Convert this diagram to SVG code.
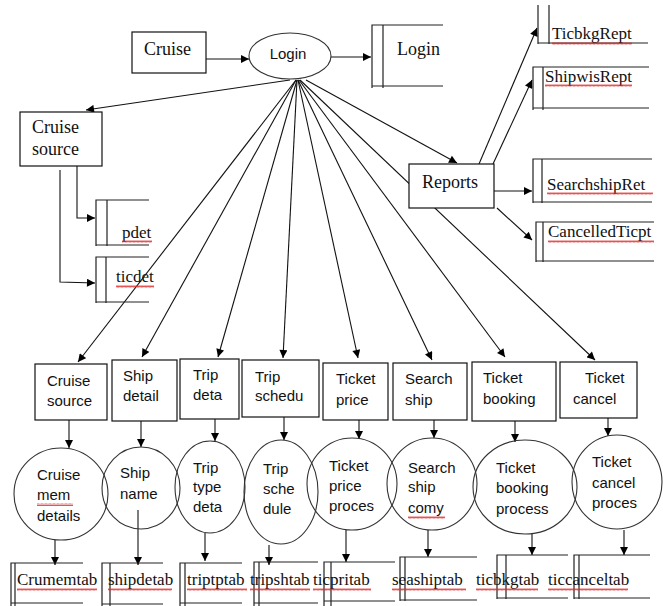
<svg xmlns="http://www.w3.org/2000/svg" width="663" height="606" viewBox="0 0 663 606">
<style>
.ln{stroke:#111;stroke-width:1.1;fill:none}
.arr{stroke:#111;stroke-width:1.1;fill:none;marker-end:url(#ah)}
.box{stroke:#111;stroke-width:1.2;fill:#fff}
.circ{stroke:#333;stroke-width:1.1;fill:none}
.st{stroke:#222;stroke-width:1.2;fill:none}
.sf{font-family:"Liberation Serif","Times New Roman",serif;fill:#111}
.s18{font-size:18px}
.s17{font-size:17px}
.ss{font-family:"Liberation Sans",Arial,sans-serif;font-size:15px;fill:#111}
.wv{fill:url(#wv)}
</style>
<defs>
<marker id="ah" viewBox="0 0 10 10" refX="10" refY="5" markerWidth="9" markerHeight="8" orient="auto" markerUnits="userSpaceOnUse"><path d="M0,0 L10,5 L0,10 z" fill="#000"/></marker>
<pattern id="wv" width="4" height="3" patternUnits="userSpaceOnUse"><path d="M0,2.5 L1,0.5 L2,2.5 L3,0.5 L4,2.5" stroke="#e02828" stroke-width="0.8" fill="none"/></pattern>
</defs>
<rect width="663" height="606" fill="#fff"/>

<g id="connectors">
<path class="arr" d="M206,59 H249"/>
<path class="arr" d="M331,57 H371"/>
<path class="arr" d="M290,80 L86,110"/>
<path class="arr" d="M77,166 V218 H95"/>
<path class="arr" d="M60,170 V282 L95,283"/>
<path class="arr" d="M306,80 L457,163"/>
<path class="arr" d="M296,80 L78,362"/>
<path class="arr" d="M296,80 L142,357"/>
<path class="arr" d="M297,80 L218,357"/>
<path class="arr" d="M297,80 L283,358"/>
<path class="arr" d="M298,80 L358,358"/>
<path class="arr" d="M298,80 L432,360"/>
<path class="arr" d="M299,80 L505,357"/>
<path class="arr" d="M300,80 L595,360"/>
<path class="arr" d="M479,164 L537,28"/>
<path class="arr" d="M493,164 L532,80"/>
<path class="arr" d="M494,191 H532"/>
<path class="arr" d="M497,208 L532,240"/>
<path class="arr" d="M69,420 V448"/>
<path class="arr" d="M141,421 V447"/>
<path class="arr" d="M215,419 V441"/>
<path class="arr" d="M284,417 V440"/>
<path class="arr" d="M359,420 V439"/>
<path class="arr" d="M434,420 V438"/>
<path class="arr" d="M515,421 V442"/>
<path class="arr" d="M608,418 V436"/>
<path class="arr" d="M55,540 V565"/>
<path class="arr" d="M138,510 V565"/>
<path class="arr" d="M205,533 V561"/>
<path class="arr" d="M269,545 V565"/>
<path class="arr" d="M346,530 V562"/>
<path class="arr" d="M428,530 V557"/>
<path class="arr" d="M532,533 V555"/>
<path class="arr" d="M624,530 V555"/>
</g>

<g id="cruise"><rect class="box" x="132" y="32" width="74" height="41"/><text class="sf s18" x="144" y="55">Cruise</text></g>
<g id="login"><ellipse cx="290" cy="56" rx="41" ry="23" stroke="#333" stroke-width="1.1" fill="#fff"/><text class="ss" x="288" y="59" text-anchor="middle" font-size="14">Login</text></g>
<g id="login-store"><path class="st" d="M443,25 H372 V88 M383,25 V88 M372,86 H443"/><text class="sf s18" x="397" y="55">Login</text></g>

<g id="cruise-source-top"><rect class="box" x="20" y="112" width="82" height="54"/><text class="sf s18" x="32" y="133">Cruise</text><text class="sf s18" x="32" y="155">source</text></g>
<g id="pdet"><path class="st" d="M149,200 H96 V246 M107,200 V246 M96,245 H149"/><text class="sf s17" x="122" y="238">pdet</text><rect class="wv" x="122" y="240" width="30" height="3"/></g>
<g id="ticdet"><path class="st" d="M149,257 H96 V303 M106,257 V303 M96,302 H149"/><text class="sf s17" x="116" y="282">ticdet</text><rect class="wv" x="116" y="285" width="38" height="3"/></g>

<g id="reports"><rect class="box" x="409" y="164" width="85" height="44"/><text class="sf s18" x="422" y="188">Reports</text></g>
<g id="ticbkgrept"><path class="st" d="M538,5 V44 M549,5 V44 M538,43 H648"/><text class="sf s17" x="552" y="39">TicbkgRept</text><rect class="wv" x="552" y="42" width="80" height="3"/></g>
<g id="shipwisrept"><path class="st" d="M649,67 H533 V110 M543,67 V110 M533,108 H649"/><text class="sf s17" x="545" y="82">ShipwisRept</text><rect class="wv" x="545" y="84" width="87" height="3"/></g>
<g id="searchshipret"><path class="st" d="M652,159 H533 V203 M542,159 V203 M533,202 H652"/><text class="sf s17" x="547" y="190">SearchshipRet</text><rect class="wv" x="547" y="192" width="106" height="3"/></g>
<g id="cancelledticpt"><path class="st" d="M654,222 H536 V262 M543,222 V262 M536,261 H654"/><text class="sf s17" x="548" y="237">CancelledTicpt</text><rect class="wv" x="548" y="240" width="106" height="3"/></g>

<g id="b-cruise-source"><rect class="box" x="35" y="364" width="72" height="56"/><text class="ss" x="47" y="386">Cruise</text><text class="ss" x="47" y="406">source</text></g>
<g id="b-ship-detail"><rect class="box" x="112" y="360" width="65" height="61"/><text class="ss" x="123" y="381">Ship</text><text class="ss" x="123" y="401">detail</text></g>
<g id="b-trip-deta"><rect class="box" x="180" y="359" width="59" height="60"/><text class="ss" x="193" y="380">Trip</text><text class="ss" x="193" y="400">deta</text></g>
<g id="b-trip-schedu"><rect class="box" x="242" y="360" width="77" height="57"/><text class="ss" x="255" y="382">Trip</text><text class="ss" x="255" y="401">schedu</text></g>
<g id="b-ticket-price"><rect class="box" x="323" y="363" width="65" height="57"/><text class="ss" x="336" y="384">Ticket</text><text class="ss" x="336" y="405">price</text></g>
<g id="b-search-ship"><rect class="box" x="393" y="363" width="74" height="57"/><text class="ss" x="405" y="384">Search</text><text class="ss" x="405" y="405">ship</text></g>
<g id="b-ticket-booking"><rect class="box" x="472" y="362" width="84" height="59"/><text class="ss" x="483" y="383">Ticket</text><text class="ss" x="483" y="404">booking</text></g>
<g id="b-ticket-cancel"><rect class="box" x="560" y="362" width="77" height="56"/><text class="ss" x="585" y="383">Ticket</text><text class="ss" x="573" y="404">cancel</text></g>

<g id="p-cruise-mem"><ellipse class="circ" cx="61" cy="494" rx="47" ry="46"/><text class="ss" x="37" y="480">Cruise</text><text class="ss" x="37" y="500">mem</text><rect class="wv" x="37" y="503" width="36" height="3"/><text class="ss" x="37" y="521">details</text></g>
<g id="p-ship-name"><ellipse class="circ" cx="141" cy="488" rx="39" ry="41"/><text class="ss" x="120" y="478">Ship</text><text class="ss" x="120" y="499">name</text></g>
<g id="p-trip-type"><ellipse class="circ" cx="210" cy="487" rx="35" ry="46"/><text class="ss" x="193" y="473">Trip</text><text class="ss" x="193" y="492">type</text><text class="ss" x="193" y="512">deta</text></g>
<g id="p-trip-schedule"><ellipse class="circ" cx="281" cy="492" rx="37" ry="52"/><text class="ss" x="263" y="474">Trip</text><text class="ss" x="263" y="494">sche</text><text class="ss" x="263" y="514">dule</text></g>
<g id="p-ticket-price"><ellipse class="circ" cx="352" cy="484" rx="45" ry="46"/><text class="ss" x="329" y="471">Ticket</text><text class="ss" x="329" y="491">price</text><text class="ss" x="329" y="511">proces</text></g>
<g id="p-search-ship"><ellipse class="circ" cx="432" cy="484" rx="45" ry="46"/><text class="ss" x="408" y="473">Search</text><text class="ss" x="408" y="492">ship</text><text class="ss" x="408" y="513">comy</text><rect class="wv" x="408" y="516" width="37" height="3"/></g>
<g id="p-ticket-booking"><ellipse class="circ" cx="525" cy="487" rx="52" ry="47"/><text class="ss" x="496" y="473">Ticket</text><text class="ss" x="496" y="493">booking</text><text class="ss" x="496" y="514">process</text></g>
<g id="p-ticket-cancel"><ellipse class="circ" cx="617" cy="482" rx="45" ry="47"/><text class="ss" x="592" y="467">Ticket</text><text class="ss" x="592" y="488">cancel</text><text class="ss" x="592" y="508">proces</text></g>

<g id="s-crumemtab"><path class="st" d="M83,563 H11 V606 M15,563 V606 M11,603 H83"/><text class="sf s17" x="17" y="585">Crumemtab</text><rect class="wv" x="17" y="588" width="80" height="3"/></g>
<g id="s-shipdetab"><path class="st" d="M163,563 H102 V606 M110,563 V606 M102,604 H163"/><text class="sf s17" x="108" y="585">shipdetab</text><rect class="wv" x="108" y="588" width="64" height="3"/></g>
<g id="s-triptptab"><path class="st" d="M242,563 H180 V606 M185,563 V606 M180,603 H242"/><text class="sf s17" x="187" y="585">triptptab</text><rect class="wv" x="187" y="588" width="60" height="3"/></g>
<g id="s-tripshtab"><path class="st" d="M318,562 H254 V606 M259,562 V606 M254,603 H318"/><text class="sf s17" x="250" y="585">tripshtab</text><rect class="wv" x="250" y="588" width="60" height="3"/></g>
<g id="s-ticpritab"><path class="st" d="M395,562 H324 V606 M331,562 V606 M324,601 H395"/><text class="sf s17" x="313" y="585">ticpritab</text><rect class="wv" x="313" y="588" width="58" height="3"/></g>
<g id="s-seashiptab"><path class="st" d="M477,557 H400 V601 M405,557 V601 M400,600 H477"/><text class="sf s17" x="392" y="585">seashiptab</text><rect class="wv" x="392" y="588" width="74" height="3"/></g>
<g id="s-ticbkgtab"><path class="st" d="M568,555 H497 V599 M506,555 V599 M497,598 H568"/><text class="sf s17" x="476" y="585">ticbkgtab</text><rect class="wv" x="476" y="588" width="62" height="3"/></g>
<g id="s-ticcanceltab"><path class="st" d="M650,555 H574 V599 M579,555 V599 M574,598 H650"/><text class="sf s17" x="548" y="585">ticcanceltab</text><rect class="wv" x="548" y="588" width="80" height="3"/></g>
</svg>
